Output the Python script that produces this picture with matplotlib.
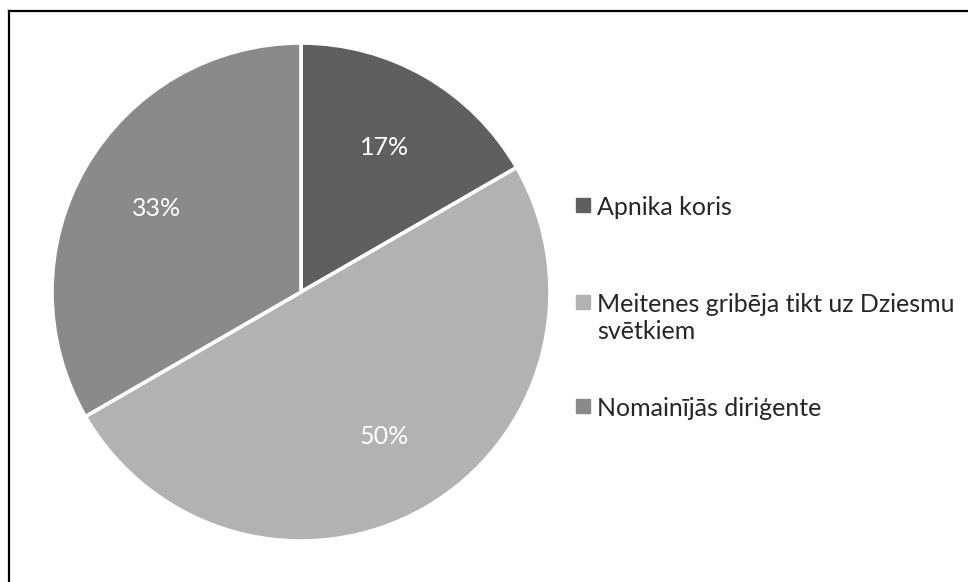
import matplotlib.pyplot as plt
from matplotlib.lines import Line2D
from matplotlib.patches import Rectangle

# Data
labels = ["Apnika koris", "Meitenes gribēja tikt uz Dziesmu\nsvētkiem", "Nomainījās diriģente"]
values = [1, 3, 2]
colors = ["#5f5f5f", "#b2b2b2", "#8a8a8a"]

W, H = 968, 582
plt.rcParams['font.family'] = ['Lato', 'DejaVu Sans']

fig = plt.figure(figsize=(W / 100, H / 100), dpi=100)

# pie axes (square in pixels)
cx, cy, r = 301, 292, 249
ax = fig.add_axes([(cx - r) / W, (H - cy - r) / H, 2 * r / W, 2 * r / H])
wedges, texts, autotexts = ax.pie(
    values, colors=colors, startangle=90, counterclock=False,
    autopct='%.0f%%', pctdistance=0.67,
    wedgeprops=dict(edgecolor='white', linewidth=2.6),
    textprops=dict(color='white', fontsize=18),
)
ax.set_xlim(-1, 1)
ax.set_ylim(-1, 1)

# legend, drawn by hand so the square sits on the first line
sq_y = [205, 302, 406]
sq = 14
for lab, col, y in zip(labels, colors, sq_y):
    fig.add_artist(Rectangle((576 / W, 1 - (y + sq / 2) / H), sq / W, sq / H,
                             transform=fig.transFigure, color=col))
    fig.text(597 / W, 1 - (y - 9) / H, lab, fontsize=18, color='#262626',
             va='top', ha='left', linespacing=1.2)

# frame (only top and left visible in the original crop)
fig.add_artist(Line2D([8.5 / W, 8.5 / W], [0, 1 - 11 / H], color='black', lw=1.6,
                      transform=fig.transFigure))
fig.add_artist(Line2D([8.5 / W, 1], [1 - 11 / H, 1 - 11 / H], color='black', lw=1.6,
                      transform=fig.transFigure))

fig.savefig("out.png", dpi=100)
